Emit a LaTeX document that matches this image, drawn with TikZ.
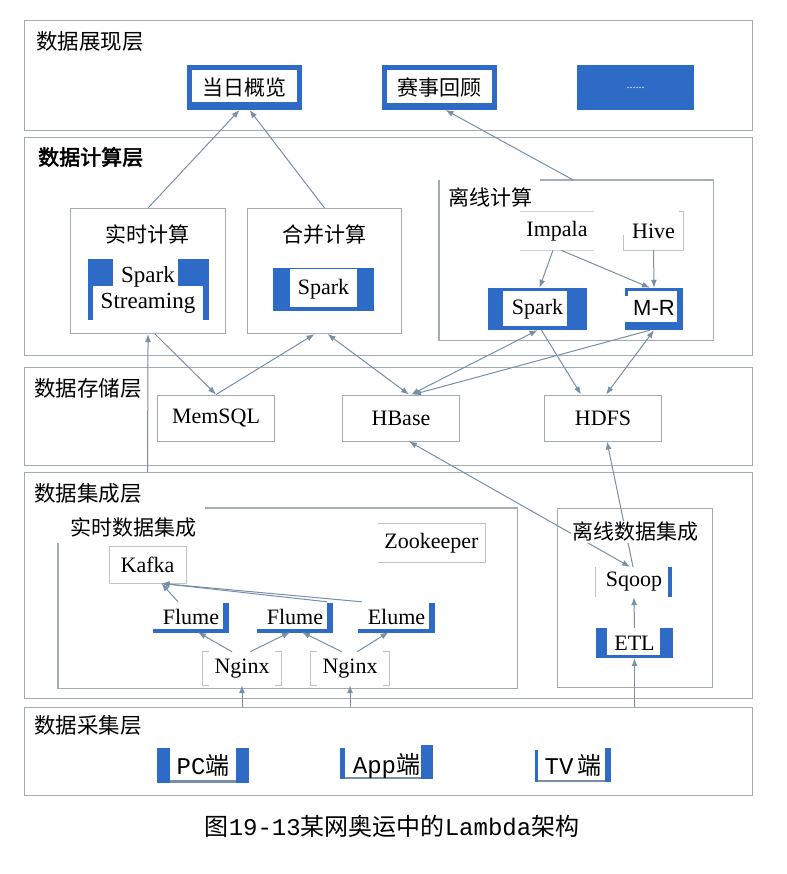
\documentclass[tikz,border=0pt]{standalone}
\usepackage{fontspec}
\setmainfont{Liberation Serif}
\newfontfamily\cjk{Noto Sans CJK SC}
\newfontfamily\cjkb[FakeBold=2.5]{Noto Sans CJK SC}
\newfontfamily\sansf{Liberation Sans}
\newfontfamily\monof{Liberation Mono}
\usetikzlibrary{arrows.meta,calc}
\definecolor{bl}{HTML}{2E6BC6}
\definecolor{fr}{HTML}{A3ABB3}
\definecolor{ar}{HTML}{7790A8}
\begin{document}
\begin{tikzpicture}[x=1pt,y=-1pt,
 layer/.style={draw=fr,line width=1.4pt},
 grp/.style={draw=fr,line width=1.1pt},
 lay/.style={font=\cjk\fontsize{21.5}{24}\selectfont,inner sep=0pt,anchor=west},
 zh/.style={font=\cjk\fontsize{21}{24}\selectfont,inner sep=0pt},
 en/.style={font=\fontsize{22}{26}\selectfont,inner sep=0pt},
 gbox/.style={draw=fr,line width=0.9pt,fill=white,inner sep=0pt},
 wh/.style 2 args={minimum width=#1,minimum height=#2},
 conn/.style={draw=ar,line width=1pt,-{Latex[length=8pt,width=6pt]}},
 biconn/.style={draw=ar,line width=1pt,{Latex[length=8pt,width=6pt]}-{Latex[length=8pt,width=6pt]}},
 thinl/.style={draw=fr!70,line width=0.8pt},
 tnum/.style={font=\fontsize{24}{26}\selectfont,inner sep=0pt},
]
\useasboundingbox[fill=white] (0,0) rectangle (786,874);

% ---------- layers ----------
\node[layer,wh={728}{110},anchor=north west] (L1) at (24,20) {};
\node[layer,wh={728}{218},anchor=north west] (L2) at (24,137) {};
\node[layer,wh={728}{98},anchor=north west] (L3) at (24,367) {};
\node[layer,wh={728}{226},anchor=north west] (L4) at (24,472) {};
\node[layer,wh={728}{88},anchor=north west] (L5) at (24,707) {};

\node[lay] (t1) at (36,41) {数据展现层};
\node[lay,font=\cjkb\fontsize{21}{24}\selectfont] (t2) at (38,157) {数据计算层};
\node[lay] (t3) at (34,388) {数据存储层};
\node[lay] (t4) at (34,493) {数据集成层};
\node[lay] (t5) at (34,725) {数据采集层};

% ---------- presentation ----------
\node[draw=bl,line width=5pt,fill=white,wh={110}{40},zh] (p1) at (244.5,87.5) {当日概览};
\fill[bl] (187,102) rectangle (302,110);
\node[draw=bl,line width=5pt,fill=white,wh={110}{40},zh] (p2) at (439.5,87.5) {赛事回顾};
\fill[bl] (382,103) rectangle (497,110);
\node[fill=bl,wh={117}{45},text=white,font=\fontsize{12}{12}\selectfont] (p3) at (635.5,87.5) {......};

% ---------- computation ----------
\node[grp,wh={155}{125},anchor=north west] (c1) at (70,208) {};
\node[zh] (c1t) at (147.5,234) {实时计算};
\node[grp,wh={154}{125},anchor=north west] (c2) at (247,208) {};
\node[zh] (c2t) at (324,235) {合并计算};
\node[wh={274}{160},inner sep=0pt,anchor=north west] (off) at (439,180) {};
\draw[grp] ($(off.north west)+(101,0)$) -- (off.north east) -- (off.south east) -- (off.south west) -- (off.north west);
\node[zh] (offt) at (490,197) {离线计算};

% Spark Streaming
\fill[bl] (88,259) rectangle (113,286);
\fill[bl] (88,286) rectangle (93,320);
\fill[bl] (178,259) rectangle (209,286);
\fill[bl] (203,286) rectangle (209,320);
\node[en,align=center,font=\fontsize{23}{26}\selectfont] (ss) at (148,290) {Spark\\Streaming};

% merge Spark
\node[en,draw=bl,line width=1.5pt,fill=white,wh={99}{42}] (sp2) at (323.5,289.5) {Spark};
\fill[bl] (274,268) rectangle (290,311);
\fill[bl] (357,268) rectangle (373,311);
\fill[bl] (274,307) rectangle (373,311);

% offline
\node[en,wh={73}{38}] (imp) at (557,231) {Impala};
\draw[thinl,draw=fr!50] (imp.north west) -- (imp.north east);
\draw[thinl,draw=fr!50] (imp.south west) -- (imp.south east);
\node[en,wh={59}{38}] (hive) at (653.5,231) {Hive};
\draw[thinl] ($(hive.north east)+(-4,0)$) -- (hive.north east) -- (hive.south east) -- (hive.south west) -- ++(0,-15);
\node[en,fill=white,wh={99}{42}] (sp3) at (537.5,309) {Spark};
\fill[bl] (488,288) rectangle (503,330);
\fill[bl] (567,288) rectangle (587,330);
\fill[bl] (488,288) rectangle (587,291);
\fill[bl] (488,326) rectangle (587,330);
\node[font=\sansf\fontsize{22}{24}\selectfont,inner sep=0pt,fill=white,wh={58}{42}] (mr) at (654,309) {\raisebox{3pt}{M-R}};
\fill[bl] (625,288) rectangle (683,291);
\fill[bl] (677,288) rectangle (683,330);
\fill[bl] (625,322) rectangle (683,330);
\fill[bl] (625,288) rectangle (628,296);

% ---------- storage ----------
\node[gbox,en,wh={117}{46}] (mem) at (216,418) {MemSQL};
\node[gbox,en,wh={117}{46}] (hb) at (401,418) {HBase};
\node[gbox,en,wh={117}{46}] (hdfs) at (603,418) {HDFS};

% ---------- integration ----------
\node[wh={459}{180},inner sep=0pt,anchor=north west] (rt) at (58,508) {};
\draw[grp] ($(rt.north west)+(147,0)$) -- (rt.north east) -- (rt.south east) -- (rt.south west) -- ($(rt.north west)+(0,35)$);
\node[zh] (rtt) at (133,528) {实时数据集成};
\node[en,wh={107}{38}] (zk) at (431.5,543) {Zookeeper};
\draw[thinl] (zk.north west) -- (zk.north east) -- (zk.south east) -- (zk.south west);
\node[gbox,draw=fr!70,en,wh={77}{37}] (kafka) at (147.5,564.5) {Kafka};

\fill[bl] (223,603) rectangle (229,633);
\fill[bl] (153,629) rectangle (229,633);
\fill[bl] (327,603) rectangle (333,633);
\fill[bl] (257,629) rectangle (333,633);
\fill[bl] (429,603) rectangle (435,633);
\fill[bl] (358,629) rectangle (435,633);
\node[en,wh={76}{30}] (f1) at (191,617) {Flume};
\node[en,wh={76}{30}] (f2) at (295,617) {Flume};
\node[en,wh={77}{30}] (f3) at (396.5,617) {Elume};

\node[en,wh={78}{33}] (n1) at (242,668.5) {Nginx};
\node[en,wh={78}{33}] (n2) at (350,668.5) {Nginx};
\foreach \n in {n1,n2}{
  \draw[thinl] ([xshift=6pt]\n.north west) -- (\n.north west) -- (\n.south west) -- ([xshift=6pt]\n.south west);
  \draw[thinl] ([xshift=-6pt]\n.north east) -- (\n.north east) -- (\n.south east) -- ([xshift=-6pt]\n.south east);
}

\node[grp,wh={155}{179},anchor=north west] (oi) at (557,508) {};
\node[en,wh={76}{30}] (sq) at (634,582) {Sqoop};
\fill[bl] (668,567) rectangle (672,597);
\draw[thinl] (sq.north west) -- (sq.south west);
\node[en,wh={77}{30}] (etl) at (634.5,643) {ETL};
\fill[bl] (596,628) rectangle (607,658);
\fill[bl] (660,628) rectangle (673,658);
\fill[bl] (596,655) rectangle (673,658);

% ---------- collection ----------
\fill[bl] (157,748) rectangle (170,783);
\fill[bl] (236,748) rectangle (249,783);
\fill[ar] (170,780) rectangle (236,783);
\node[tnum,wh={92}{35}] (pc) at (203,765.5) {{\monof PC}{\cjk 端}};
\fill[bl] (340,748) rectangle (345,779);
\fill[bl] (421,745) rectangle (433,779);
\fill[ar] (345,777) rectangle (421,779);
\node[tnum,wh={93}{35}] (app) at (386.5,765.5) {{\monof App}{\cjk 端}};
\fill[bl] (535,750) rectangle (538,782);
\fill[bl] (605,748) rectangle (611,782);
\fill[ar] (538,780) rectangle (605,782);
\node[tnum,wh={76}{35}] (tv) at (573,765.5) {{\monof TV\,}{\cjk 端}};

\node[tnum] (cap) at (392,826) {{\cjk 图}{\monof 19-13}{\cjk 某网奥运中的}{\monof Lambda}{\cjk 架构}};

% ---------- connectors ----------
\draw[conn] (c1.north) -- ([xshift=-5pt]p1.south);
\draw[conn] (c2.north) -- ([xshift=5pt]p1.south);
\draw[conn] ([xshift=-3pt]off.north) -- ([xshift=6pt]p2.south);
\coordinate (kin) at (147.5,472);
\draw[conn] (kin) -- (c1.south);
\draw[conn] ([xshift=7pt]c1.south) -- (mem.north);
\draw[conn] (mem.north) -- ([xshift=-10pt]c2.south);
\draw[biconn] ([xshift=3pt]c2.south) -- ([xshift=8pt]hb.north);
\draw[biconn] (sp3.south) -- ([xshift=10pt]hb.north);
\draw[conn] ([xshift=-4pt]mr.south) -- ([xshift=12pt]hb.north);
\draw[conn] ([xshift=4pt]sp3.south) -- ([xshift=-22pt]hdfs.north);
\draw[biconn] ([xshift=3pt]hdfs.north) -- (mr.south);
\draw[conn] ([xshift=-4pt]imp.south) -- ([xshift=2pt]sp3.north);
\draw[conn] ([xshift=4pt]imp.south) -- ([xshift=-4pt]mr.north);
\draw[conn] (hive.south) -- (mr.north);

\draw[biconn] ([xshift=-4pt]sq.north) -- ([xshift=8pt]hb.south);
\draw[conn] ([xshift=-1pt]sq.north) -- ([xshift=4pt]hdfs.south);
\draw[conn] (etl.north) -- (sq.south);
\coordinate (ein) at (634.5,707);
\draw[conn] (ein) -- (etl.south);
\coordinate (n1in) at (242,707);
\draw[conn] (n1in) -- (n1.south);
\coordinate (n2in) at (350,707);
\draw[conn] (n2in) -- (n2.south);
\draw[conn] ([xshift=-10pt]n1.north) -- ([xshift=7pt]f1.south);
\draw[conn] ([xshift=8pt]n1.north) -- ([xshift=-5pt]f2.south);
\draw[conn] ([xshift=-8pt]n2.north) -- ([xshift=7pt]f2.south);
\draw[conn] ([xshift=7pt]n2.north) -- ([xshift=-8pt]f3.south);
\draw[conn] ([xshift=-13pt]f1.north) -- ([xshift=14pt]kafka.south);
\draw[conn] ([xshift=-6pt]f2.north east) -- ([xshift=14pt]kafka.south);
\draw[conn] ([xshift=4pt]f3.north west) -- ([xshift=14pt]kafka.south);

\node[zh,fill=white,inner sep=1pt] (oit) at (635,532) {离线数据集成};
\end{tikzpicture}
\end{document}
